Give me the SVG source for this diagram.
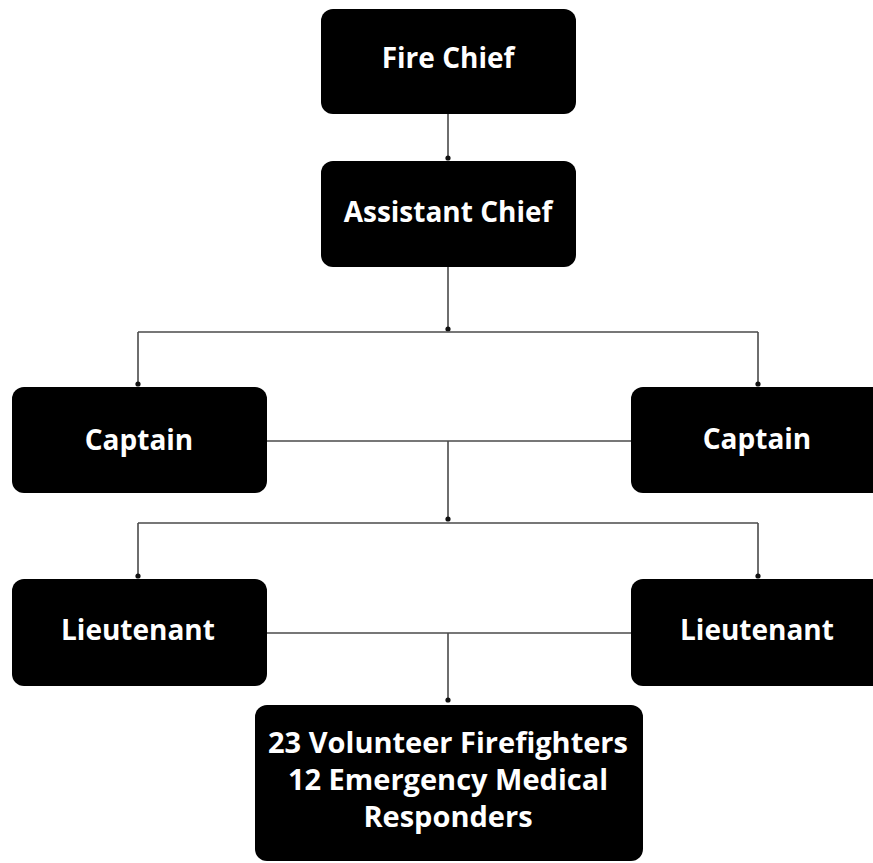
<svg xmlns="http://www.w3.org/2000/svg" width="873" height="863" viewBox="0 0 873 863">
<style>
.box{fill:#000;}
.lbl{fill:#fff;font-family:"Open Sans","Noto Sans","DejaVu Sans",sans-serif;font-weight:bold;font-size:28px;text-anchor:middle;}
.big{font-size:29px;}
.con{fill:none;stroke:#4a4a4a;stroke-width:1.6;}
</style>
<defs>
<marker id="dot" viewBox="0 0 6 6" refX="3" refY="3" markerWidth="6" markerHeight="6" markerUnits="userSpaceOnUse">
<circle cx="3" cy="3" r="2.6" fill="#111"/>
</marker>
</defs>
<rect width="873" height="863" fill="#fff"/>
<g id="connectors">
<path class="con" d="M448,114 V158" marker-end="url(#dot)"/>
<path class="con" d="M448,266 V329" marker-end="url(#dot)"/>
<path class="con" d="M138,332 H758"/>
<path class="con" d="M138,332 V384" marker-end="url(#dot)"/>
<path class="con" d="M758,332 V384" marker-end="url(#dot)"/>
<path class="con" d="M267,441 H631"/>
<path class="con" d="M448,441 V519" marker-end="url(#dot)"/>
<path class="con" d="M138,523 H758"/>
<path class="con" d="M138,523 V576" marker-end="url(#dot)"/>
<path class="con" d="M758,523 V576" marker-end="url(#dot)"/>
<path class="con" d="M267,633 H631"/>
<path class="con" d="M448,633 V700" marker-end="url(#dot)"/>
</g>
<g id="fire-chief">
<rect class="box" x="321" y="9" width="255" height="105" rx="12"/>
<text class="lbl" x="448" y="68">Fire Chief</text>
</g>
<g id="assistant-chief">
<rect class="box" x="321" y="161" width="255" height="106" rx="12"/>
<text class="lbl" x="448" y="222">Assistant Chief</text>
</g>
<g id="captain-left">
<rect class="box" x="12" y="387" width="255" height="106" rx="12"/>
<text class="lbl" x="139" y="450">Captain</text>
</g>
<g id="captain-right">
<rect class="box" x="631" y="387" width="255" height="106" rx="12"/>
<text class="lbl" x="757" y="449">Captain</text>
</g>
<g id="lieutenant-left">
<rect class="box" x="12" y="579" width="255" height="107" rx="12"/>
<text class="lbl" x="138" y="640">Lieutenant</text>
</g>
<g id="lieutenant-right">
<rect class="box" x="631" y="579" width="255" height="107" rx="12"/>
<text class="lbl" x="757" y="640">Lieutenant</text>
</g>
<g id="volunteers">
<rect class="box" x="255" y="705" width="388" height="156" rx="12"/>
<text class="lbl big" x="448" y="753">23 Volunteer Firefighters</text>
<text class="lbl big" x="448" y="790">12 Emergency Medical</text>
<text class="lbl big" x="448" y="827">Responders</text>
</g>
</svg>
